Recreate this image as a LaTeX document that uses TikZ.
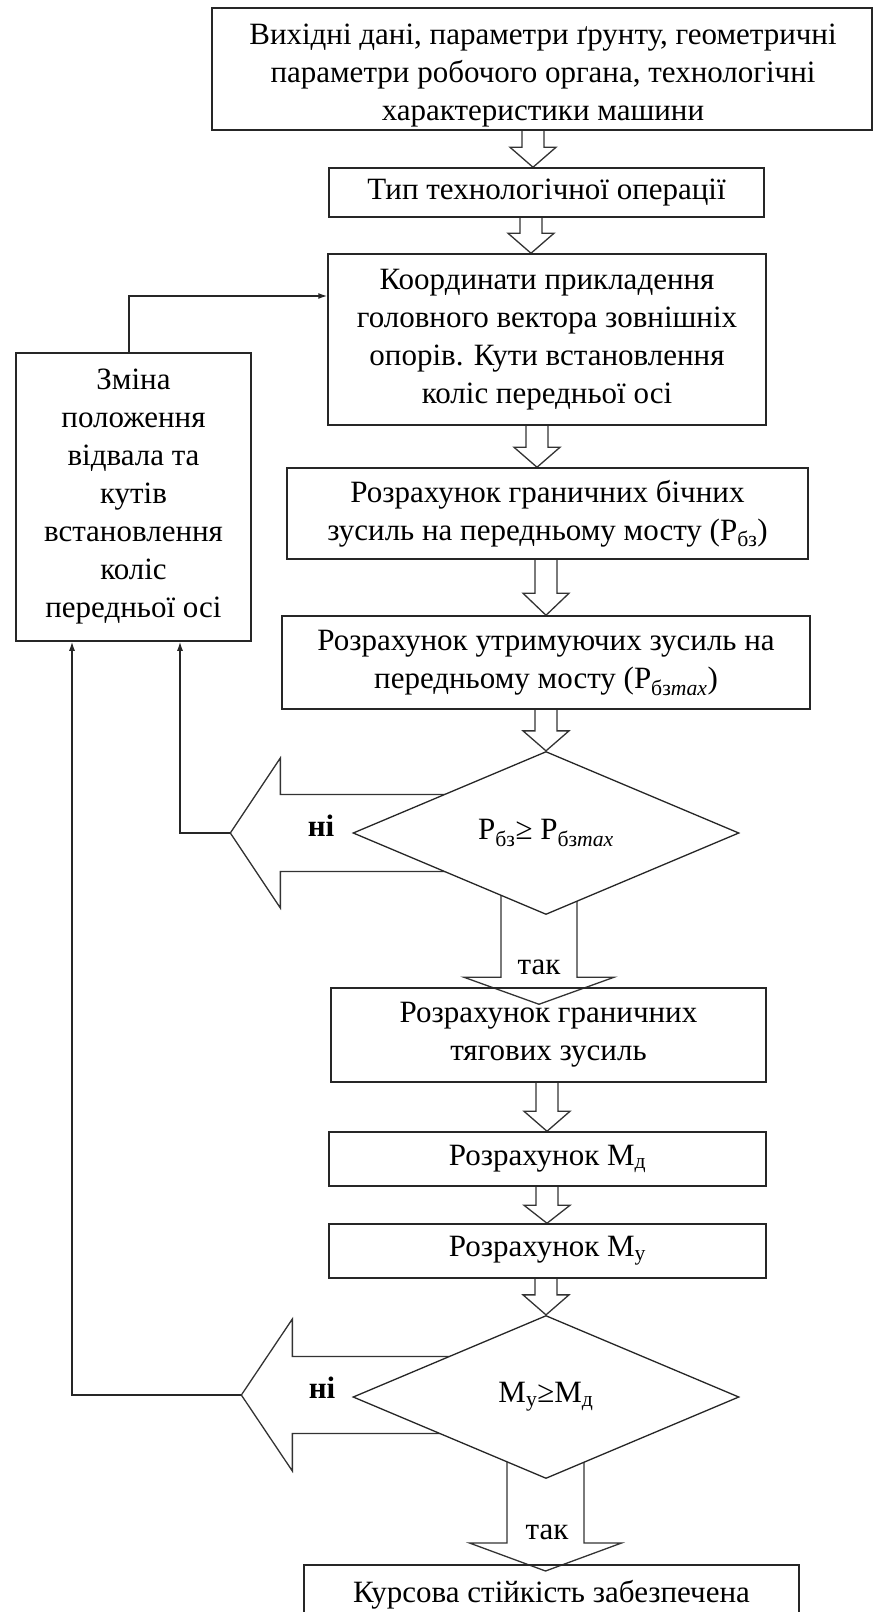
\documentclass[tikz,border=0pt]{standalone}
\usepackage{fontspec}
\setmainfont{Liberation Serif}
\usetikzlibrary{calc,shapes.geometric,arrows.meta}
\pgfdeclarelayer{bg}
\pgfsetlayers{bg,main}
\newcommand\hollowdown[5]{%
  \draw[blk] ($(#1 -| #2)+(-#3,0)$) -- ($(#2)+(-#3,-#5)$) -- ($(#2)+(-#4,-#5)$) -- (#2)
    -- ($(#2)+(#4,-#5)$) -- ($(#2)+(#3,-#5)$) -- ($(#1 -| #2)+(#3,0)$);}
\newcommand\hollowleft[5]{%
  \draw[blk] ($(#1 |- #2)+(0,-#3)$) -- ($(#2)+(#5,-#3)$) -- ($(#2)+(#5,-#4)$) -- (#2)
    -- ($(#2)+(#5,#4)$) -- ($(#2)+(#5,#3)$) -- ($(#1 |- #2)+(0,#3)$);}
\begin{document}
\begin{tikzpicture}[x=1pt,y=-1pt,
  every node/.style={font=\fontsize{31}{38}\selectfont, text=black},
  box/.style={draw=black!85, line width=1.5pt, rectangle, inner sep=0pt, align=center},
  dia/.style={draw=black!85, line width=1.3pt, diamond, fill=white, inner sep=0pt,
    minimum width=386pt, minimum height=163pt, aspect=2.37},
  blk/.style={draw=black!80, line width=1.3pt, line join=miter},
  conn/.style={draw=black!85, line width=1.4pt, -{Latex[length=9pt,width=6pt]}},
  lbl/.style={inner sep=0pt, align=center}]
\useasboundingbox (0,0) rectangle (875,1612);
\clip (0,0) rectangle (875,1612);

% boxes
\node[box, minimum width=660pt, minimum height=122pt] (b1) at (542,69) {};
\node[lbl] (b1t) at (543,76) {Вихідні дані, параметри ґрунту, геометричні\\параметри робочого органа, технологічні\\характеристики машини};
\node[box, minimum width=435pt, minimum height=49pt] (b2) at (546.5,192.5) {Тип технологічної операції};
\node[box, minimum width=438pt, minimum height=171pt] (b3) at (547,339.5) {Координати прикладення\\головного вектора зовнішніх\\опорів. Кути встановлення\\коліс передньої осі};
\node[box, minimum width=521pt, minimum height=91pt] (b4) at (547.5,513.5) {Розрахунок граничних бічних\\зусиль на передньому мосту (P\textsubscript{бз})};
\node[box, minimum width=528pt, minimum height=93pt] (b5) at (546,662.5) {Розрахунок утримуючих зусиль на\\передньому мосту (P\textsubscript{бз\textit{max}})};
\node[dia] (d1) at (546,833) {P\textsubscript{бз}≥ P\textsubscript{бз\textit{max}}};
\node[box, minimum width=435pt, minimum height=94pt] (b6) at (548.5,1035) {Розрахунок граничних\\тягових зусиль};
\node[box, minimum width=437pt, minimum height=54pt] (b7) at (547.5,1159) {Розрахунок M\textsubscript{д}};
\node[box, minimum width=437pt, minimum height=54pt] (b8) at (547.5,1251) {Розрахунок M\textsubscript{у}};
\node[dia] (d2) at (546,1397) {M\textsubscript{у}≥M\textsubscript{д}};
\node[box, minimum width=495pt, minimum height=70pt, anchor=north] (b9) at (551.5,1564) {};
\node[lbl] (b9t) at (551.5,1595) {Курсова стійкість забезпечена};
\node[box, minimum width=235pt, minimum height=288pt] (l) at (133.5,497) {Зміна\\положення\\відвала та\\кутів\\встановлення\\коліс\\передньої осі};

% labels
\node[lbl, font=\fontsize{31}{38}\selectfont\bfseries] (no1) at (321,826) {ні};
\node[lbl, font=\fontsize{31}{38}\selectfont\bfseries] (no2) at (322,1388) {ні};
\node[lbl] (yes1) at (539,967) {так};
\node[lbl] (yes2) at (547,1532) {так};

% arrow positions
\coordinate (x1) at (533,0);
\coordinate (x2) at (531,0);
\coordinate (x3) at (537,0);
\coordinate (x4) at (546,0);
\coordinate (x5) at (547,0);
\coordinate (a1t) at (b2.north -| x1);
\coordinate (a2t) at (b3.north -| x2);
\coordinate (a3t) at (b4.north -| x3);
\coordinate (a4t) at (b5.north -| x4);
\coordinate (a5t) at (d1.north);
\coordinate (a6t) at (b7.north -| x5);
\coordinate (a7t) at (b8.north -| x5);
\coordinate (a8t) at (d2.north);
\coordinate (t1t) at ($(b6.north)+(-9.5,17)$);
\coordinate (t2t) at ($(b9.north)+(-6,7)$);
\coordinate (n1t) at ($(d1.west)+(-122,0)$);
\coordinate (n2t) at ($(d2.west)+(-111,-2)$);

\begin{pgfonlayer}{bg}
\fill[white] (0,0) rectangle (875,1612);
\hollowdown{b1.south}{a1t}{11}{23}{20}
\hollowdown{b2.south}{a2t}{11}{23}{20}
\hollowdown{b3.south}{a3t}{11}{23}{20}
\hollowdown{b4.south}{a4t}{11}{23}{22}
\hollowdown{b5.south}{a5t}{11}{23}{20}
\hollowdown{b6.south}{a6t}{11}{23}{20}
\hollowdown{b7.south}{a7t}{11}{23}{18}
\hollowdown{b8.south}{a8t}{11}{23}{20}
\hollowdown{d1.center}{t1t}{38}{75}{27}
\hollowdown{d2.center}{t2t}{38.5}{76}{28}
\hollowleft{d1.center}{n1t}{38.5}{75}{50}
\hollowleft{d2.center}{n2t}{38.5}{76}{51}
\end{pgfonlayer}

% thin connectors
\draw[conn] (n1t) -| ($(l.south)+(46.5,0)$);
\draw[conn] (n2t) -| ($(l.south)+(-61.5,0)$);
\draw[conn] ($(l.north)+(-4.5,0)$) |- ($(b3.west)+(0,-43.5)$);
\end{tikzpicture}
\end{document}
